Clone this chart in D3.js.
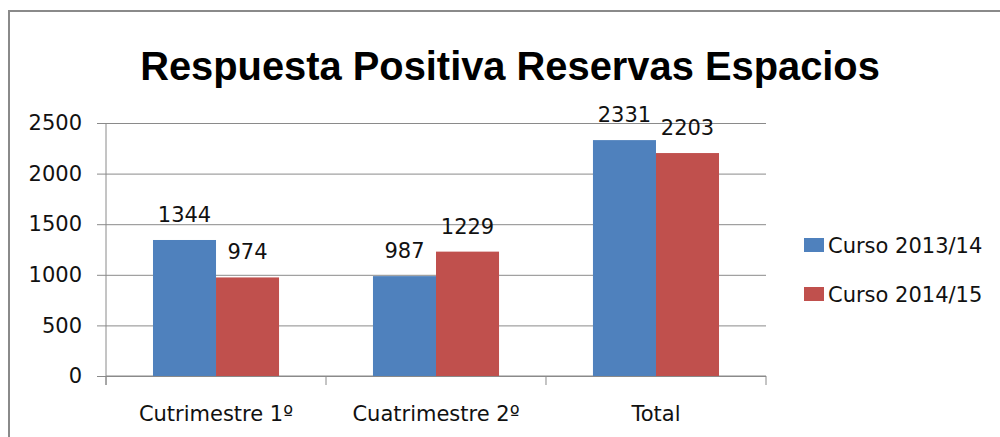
<!DOCTYPE html>
<html><head><meta charset="utf-8">
<script src="https://cdn.jsdelivr.net/npm/d3@7"></script>
<style>body{margin:0;background:#fff;overflow:hidden}svg{display:block}</style>
</head><body>
<script>
const categories = ["Cutrimestre 1º", "Cuatrimestre 2º", "Total"];
const seriesNames = ["Curso 2013/14", "Curso 2014/15"];
const curso1314 = [1344, 987, 2331];
const curso1415 = [974, 1229, 2203];
const yTicks = [0, 500, 1000, 1500, 2000, 2500];
const colors = ["#4F81BD", "#C0504D"];
const titleText = "Respuesta Positiva Reservas Espacios";

(function () {
const W = 1000, H = 437;
const svg = d3.select("body").append("svg").attr("width", W).attr("height", H);
const font = "'DejaVu Sans', sans-serif";

// chart border (right and bottom edges lie outside the picture)
svg.append("rect").attr("x", 9).attr("y", 11).attr("width", 1100).attr("height", 600)
  .attr("fill", "none").attr("stroke", "#8a8a8a").attr("stroke-width", 2);

// title
const title = svg.append("text").attr("x", 510).attr("y", 80).attr("text-anchor", "middle")
  .attr("font-family", "'Liberation Sans Narrow', 'Liberation Sans', sans-serif")
  .attr("font-weight", "bold").attr("font-size", 48)
  .attr("fill", "#000").text(titleText);
const tw = title.node().getComputedTextLength();
if (tw > 740) title.attr("font-size", 48 * 740 / tw);

const pLeft = 106, pRight = 766, pTop = 123, pBottom = 376;
const y = d3.scaleLinear().domain([0, 2500]).range([pBottom, pTop]);
const x0 = d3.scaleBand().domain(categories).range([pLeft, pRight])
  .paddingInner(0.427).paddingOuter(0.2136);
const x1 = d3.scaleBand().domain(seriesNames).range([0, x0.bandwidth()]);

// gridlines + y axis
const yAxis = d3.axisLeft(y).tickValues(yTicks).tickFormat(d3.format("d")).tickSize(0).tickPadding(15);
const gy = svg.append("g").attr("transform", `translate(${pLeft - 9},0)`).call(yAxis);
gy.select(".domain").remove();
gy.selectAll(".tick line").attr("stroke", "#8a8a8a").attr("x1", 0).attr("x2", pRight - pLeft + 9);
gy.selectAll(".tick text").attr("font-family", font).attr("font-size", 21).attr("fill", "#111");

// y axis vertical line
svg.append("line").attr("x1", pLeft).attr("x2", pLeft).attr("y1", pTop).attr("y2", pBottom + 9)
  .attr("stroke", "#8a8a8a");

// x axis
const bounds = categories.map(c => x0(c) - x0.step() * x0.paddingInner() / 2).concat([pRight]);
svg.append("line").attr("x1", pLeft).attr("x2", pRight).attr("y1", pBottom).attr("y2", pBottom)
  .attr("stroke", "#8a8a8a");
svg.selectAll(".xt").data(bounds).enter().append("line")
  .attr("x1", d => d).attr("x2", d => d).attr("y1", pBottom).attr("y2", pBottom + 9)
  .attr("stroke", "#8a8a8a");
svg.selectAll(".xl").data(categories).enter().append("text")
  .attr("x", d => x0(d) + x0.bandwidth() / 2).attr("y", 421)
  .attr("text-anchor", "middle").attr("font-family", font).attr("font-size", 21)
  .attr("fill", "#111").text(d => d);

// bars
const series = [curso1314, curso1415];
series.forEach((vals, si) => {
  const g = svg.append("g");
  g.selectAll("rect").data(vals).enter().append("rect")
    .attr("x", (d, i) => x0(categories[i]) + x1(seriesNames[si]))
    .attr("y", d => y(d)).attr("width", x1.bandwidth()).attr("height", d => pBottom - y(d))
    .attr("fill", colors[si]);
  g.selectAll("text").data(vals).enter().append("text")
    .attr("x", (d, i) => x0(categories[i]) + x1(seriesNames[si]) + x1.bandwidth() / 2)
    .attr("y", d => y(d) - 18).attr("text-anchor", "middle")
    .attr("font-family", font).attr("font-size", 21).attr("fill", "#111").text(d => d);
});

// legend
const legendY = [245, 294];
seriesNames.forEach((s, i) => {
  svg.append("rect").attr("x", 804).attr("y", legendY[i] - 7).attr("width", 20).attr("height", 14)
    .attr("fill", colors[i]);
  svg.append("text").attr("x", 828).attr("y", legendY[i]).attr("dy", "0.36em")
    .attr("font-family", font).attr("font-size", 21).attr("fill", "#111").text(s);
});
})();
</script>
</body></html>
